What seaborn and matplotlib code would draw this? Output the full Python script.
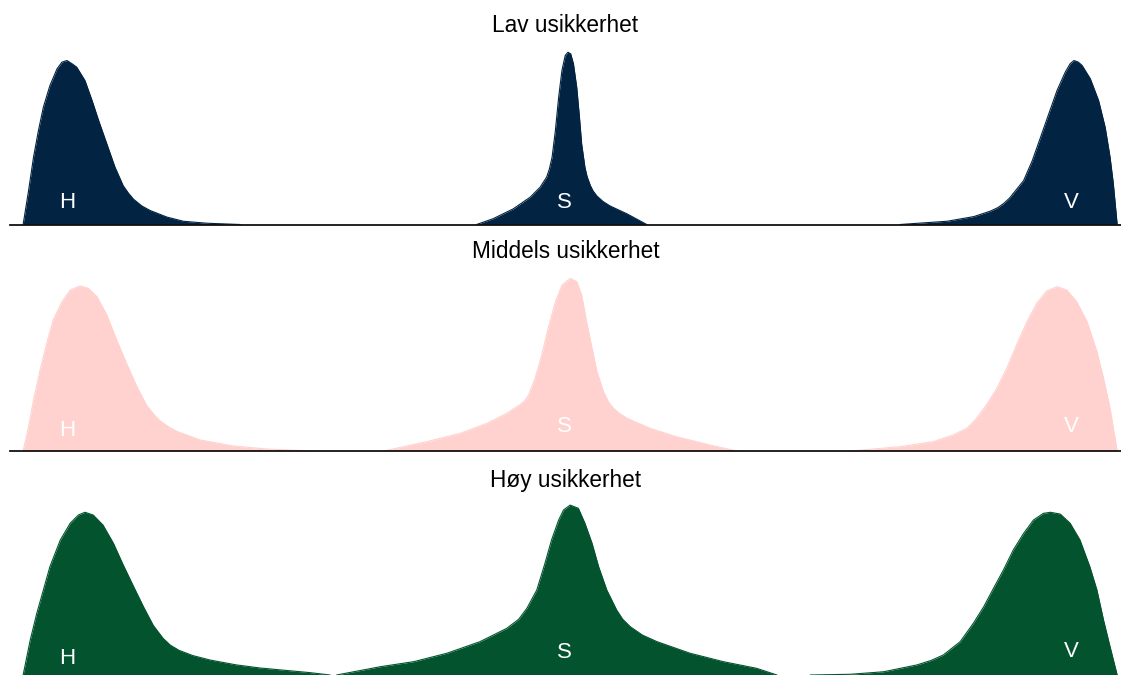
import pandas as pd
import matplotlib
matplotlib.use("Agg")
import matplotlib.pyplot as plt
import seaborn as sns

# three panels, each with three shapes: H, S, V
# x: position (-100 = far left, 100 = far right), y: relative height (0-100)
panel_titles = ["Lav usikkerhet", "Middels usikkerhet", "Høy usikkerhet"]
panel_colors = ["#022341", "#FFD2CF", "#03542E"]
shape_labels = ["H", "S", "V"]

# Lav usikkerhet
H1_x = [-100, -99.0, -98.1, -97.2, -96.3, -95.1, -93.8, -92.9, -92.0, -91.1, -90.2, -88.7, -87.4,
        -86.2, -84.7, -83.2, -81.7, -80.7, -79.8, -78.3, -76.8, -73.7, -70.7, -66.4, -60.3]
H1_y = [0, 18.9, 37.4, 52.2, 65.2, 77.2, 86.5, 90.2, 91.1, 89.4, 87.4, 80.0, 68.9,
        57.8, 44.8, 31.8, 21.5, 17.2, 14.0, 10.3, 7.8, 4.1, 1.8, 0.7, 0]
S1_x = [-17.1, -14.1, -10.4, -7.3, -5.5, -4.3, -3.8, -3.3, -2.7, -2.1, -1.5, -0.9, -0.4, 0.1,
        0.6, 1.2, 1.7, 2.1, 2.7, 3.1, 3.7, 4.2, 4.9, 6.0, 7.3, 10.4, 14.0]
S1_y = [0, 3.2, 8.7, 15.2, 20.7, 26.3, 30.8, 37.4, 52.2, 70.7, 85.6, 93.9, 95.7, 94.8,
        89.3, 76.3, 59.6, 44.8, 31.8, 26.6, 21.6, 18.6, 15.8, 12.8, 10.3, 5.9, 0]
V1_x = [60.3, 68.9, 73.8, 76.8, 78.2, 79.3, 80.3, 81.1, 82.9, 84.5, 86.0, 87.5, 89.0, 90.5, 91.4,
        92.1, 92.9, 93.6, 95.1, 96.6, 97.8, 98.7, 99.3, 100]
V1_y = [0, 1.8, 4.4, 7.4, 9.4, 11.8, 14.6, 17.6, 24.4, 35.6, 48.5, 61.5, 74.4, 84.6, 89.3,
        91.1, 90.2, 88.3, 80.9, 68.9, 54.1, 37.4, 22.6, 0]

# Middels usikkerhet
H2_x = [-100, -99.0, -98.1, -96.9, -95.7, -94.5, -92.9, -91.4, -89.6, -88.1, -86.5, -84.7,
        -82.9, -81.1, -79.2, -77.4, -76.1, -74.9, -73.4, -71.9, -67.6, -61.6, -55.4, -46.9]
H2_y = [0, 13.5, 28.3, 45.0, 59.8, 72.8, 82.9, 89.4, 91.7, 90.4, 85.7, 75.6,
        61.7, 48.7, 35.7, 25.2, 20.3, 16.6, 13.4, 10.9, 6.1, 2.8, 1.1, 0]
S2_x = [-34.1, -26.2, -20.1, -15.2, -11.6, -9.1, -8.3, -7.6, -6.4, -5.2, -4.0, -2.7, -1.5, 0,
        1.2, 2.1, 3.0, 4.0, 4.9, 6.1, 7.0, 7.9, 9.0, 10.4, 14.6, 19.5, 25.6, 30.5]
S2_y = [0, 5.2, 9.8, 15.4, 20.9, 25.9, 28.0, 31.1, 40.4, 53.3, 68.2, 82.9, 92.2, 95.9,
        94.1, 86.7, 71.8, 57.1, 44.1, 32.9, 27.3, 23.8, 20.9, 18.2, 12.6, 7.9, 3.3, 0]
V2_x = [51.2, 60.3, 66.4, 70.0, 72.5, 74.3, 76.1, 78.0, 79.8, 81.6, 83.5, 85.3, 87.1,
        89.0, 90.8, 92.6, 94.5, 96.3, 97.5, 98.7, 100]
V2_y = [0, 2.4, 5.2, 8.9, 12.6, 18.2, 25.6, 34.8, 45.9, 58.9, 71.8, 82.1, 88.9,
        91.3, 89.4, 82.9, 71.8, 55.2, 40.4, 23.7, 0]

# Høy usikkerhet
H3_x = [-100, -98.7, -97.5, -96.3, -95.1, -93.2, -91.4, -89.9, -88.7, -87.2, -85.4, -83.5,
        -81.7, -79.8, -78.0, -76.2, -74.4, -73.1, -71.5, -69.0, -65.8, -61.0, -56.7, -47.5, -43.9]
H3_y = [0, 19.4, 34.3, 47.2, 60.2, 75.0, 84.3, 88.9, 90.4, 88.9, 83.3, 73.2,
        61.1, 49.1, 37.9, 27.5, 20.3, 16.6, 13.7, 10.8, 8.3, 5.6, 3.9, 1.3, 0]
S3_x = [-42.7, -34.7, -28.6, -22.5, -16.5, -11.6, -9.4, -7.9, -6.1, -4.6, -3.4, -2.1, -1.2, 0,
        1.5, 2.7, 4.0, 5.2, 6.7, 8.5, 9.6, 11.0, 13.2, 15.9, 21.9, 28.0, 34.1, 37.8]
S3_y = [0, 4.6, 7.4, 12.1, 18.5, 25.9, 31.0, 37.1, 47.2, 62.1, 75.0, 86.1, 91.7, 94.4,
        92.6, 84.3, 73.2, 60.2, 47.2, 36.1, 31.0, 26.8, 22.2, 18.5, 12.1, 7.4, 3.7, 0]
V3_x = [43.9, 51.2, 57.3, 63.4, 66.0, 68.2, 71.3, 73.7, 75.6, 77.4, 79.2, 81.0, 82.9, 84.7,
        86.5, 87.8, 89.6, 91.4, 93.2, 95.0, 96.3, 97.5, 98.7, 100]
V3_y = [0, 0.4, 1.8, 5.6, 8.1, 11.1, 18.5, 28.7, 37.9, 48.2, 58.3, 69.4, 78.7, 86.1,
        89.8, 90.4, 89.4, 84.3, 75.0, 60.2, 47.2, 30.6, 15.7, 0]

panels = [
    [(H1_x, H1_y), (S1_x, S1_y), (V1_x, V1_y)],
    [(H2_x, H2_y), (S2_x, S2_y), (V2_x, V2_y)],
    [(H3_x, H3_y), (S3_x, S3_y), (V3_x, V3_y)],
]

rows = []
for p, shapes in enumerate(panels):
    for label, (xs, ys) in zip(shape_labels, shapes):
        for x, y in zip(xs, ys):
            rows.append({"panel": p, "shape": label, "x": x, "y": y})
df = pd.DataFrame(rows)

sns.set_theme(style="white")
plt.rcParams["font.family"] = ["Liberation Sans", "DejaVu Sans"]

fig = plt.figure(figsize=(11.21, 6.75), dpi=100)
W, H = 1121, 675
# baseline pixel row for each panel, 180 px tall each
baselines = [224.5, 451, 675]
label_y = [[12.5, 12.5, 12.2], [11.4, 13.6, 13.6], [9.1, 12.5, 13.0]]
title_y = [1.108, 1.11, 1.083]

for p in range(3):
    ax = fig.add_axes([10 / W, (H - baselines[p]) / H, 1111 / W, 180 / H])
    sub = df[df["panel"] == p]
    color = panel_colors[p]
    for label in shape_labels:
        s = sub[sub["shape"] == label]
        ax.fill_between(s["x"], 0, s["y"], color=color, linewidth=0)
    sns.lineplot(data=sub, x="x", y="y", units="shape", estimator=None,
                 color=color, linewidth=0.8, ax=ax, legend=False)

    for label, lx, ly in zip(shape_labels, [-91.9, -1.1, 91.6], label_y[p]):
        ax.text(lx, ly, label, color="white", ha="center", va="center", fontsize=16)

    ax.text(0.5, title_y[p], panel_titles[p], transform=ax.transAxes,
            ha="center", va="center", fontsize=16.3, color="black")

    ax.set_xlim(-102.4, 100.7)
    ax.set_ylim(0, 100)
    ax.set(xlabel="", ylabel="", xticks=[], yticks=[])
    for side in ["top", "left", "right"]:
        ax.spines[side].set_visible(False)
    if p < 2:
        ax.spines["bottom"].set_color("#111111")
        ax.spines["bottom"].set_linewidth(1.3)
    else:
        ax.spines["bottom"].set_visible(False)
    ax.patch.set_visible(False)

fig.savefig("out.png", dpi=100)
